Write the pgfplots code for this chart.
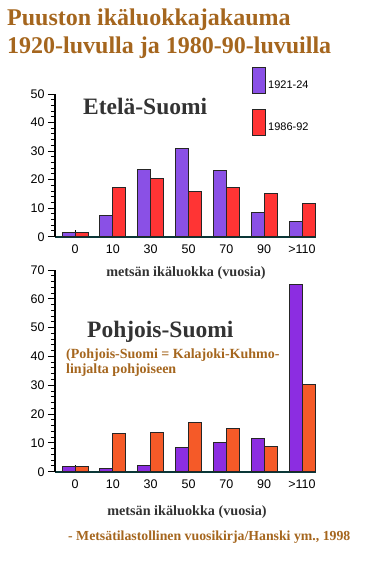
\documentclass[border=0pt]{standalone}
\usepackage{fontspec}
\setmainfont{Liberation Serif}
\newfontfamily\sansf{Liberation Sans}
\usepackage{pgfplots}
\pgfplotsset{compat=1.18}
\definecolor{titlebrown}{RGB}{165,102,30}
\definecolor{darkgray}{RGB}{51,51,51}
\definecolor{purpA}{RGB}{138,80,230}
\definecolor{redA}{RGB}{255,52,52}
\definecolor{purpB}{RGB}{140,45,225}
\definecolor{orangeB}{RGB}{245,90,40}
\definecolor{axteal}{RGB}{10,55,55}
\pgfplotsset{
 mybars/.style={
  scale only axis, width=261bp, anchor=south west,
  xmin=-0.53, xmax=6.37, ymin=0,
  axis x line*=bottom, axis y line*=left,
  xtick pos=bottom, ytick pos=left,
  x axis line style={-, line width=2bp, draw=axteal},
  y axis line style={-, line width=1.6bp, draw=black},
  xtick={0,...,6}, xticklabels={0,10,30,50,70,90,>110},
  xtick align=inside, ytick align=outside,
  major tick length=7bp, minor tick length=4bp,
  minor y tick num=4,
  tick style={draw=black, line width=1bp},
  ticklabel style={font=\sansf\fontsize{12.5bp}{14bp}\selectfont},
  /pgf/number format/assume math mode=true,
  xticklabel style={yshift=-5bp},
  every axis plot/.append style={draw=black!85, line width=1bp},
  axis on top=false,
  clip=false,
 }
}
\begin{document}
\begin{tikzpicture}
\path[use as bounding box] (0,0) rectangle (365bp,-567bp);
% titles
\node[anchor=base west, inner sep=0, text=titlebrown, font=\bfseries\fontsize{24bp}{28bp}\selectfont] at (7bp,-25bp) {Puuston ikäluokkajakauma};
\node[anchor=base west, inner sep=0, text=titlebrown, font=\bfseries\fontsize{24bp}{28bp}\selectfont] at (7bp,-53bp) {1920-luvulla ja 1980-90-luvuilla};
% top axis
\begin{axis}[mybars, at={(55bp,-236.7bp)}, height=142.7bp, ymax=50, ytick={0,10,...,50},
  legend style={at={(rel axis cs:0.755,1.189)}, anchor=north west, draw=none, fill=none, inner sep=0pt,
    row sep=15bp, font=\sansf\fontsize{11bp}{13bp}\selectfont,
    /tikz/every even column/.append style={column sep=0bp}},
  legend image code/.code={\draw[#1] (0bp,-8bp) rectangle (13bp,18bp);},
  ]
\addplot[ybar, bar width=13bp, fill=purpA, bar shift=-6.5bp] coordinates {(0,1.6)(1,7.4)(2,23.4)(3,31)(4,23.1)(5,8.5)(6,5.5)};
\addplot[ybar, bar width=13bp, fill=redA, bar shift=6.5bp] coordinates {(0,1.6)(1,17.2)(2,20.5)(3,15.8)(4,17.2)(5,15.2)(6,11.7)};
\legend{1921-24,1986-92}
\end{axis}
\node[anchor=base west, inner sep=0, text=darkgray, font=\bfseries\fontsize{23.5bp}{27bp}\selectfont] at (83bp,-114.3bp) {Etelä-Suomi};
\node[anchor=base, inner sep=0, text=darkgray, font=\bfseries\fontsize{14.2bp}{16bp}\selectfont] at (186bp,-276.7bp) {metsän ikäluokka (vuosia)};
% bottom axis
\begin{axis}[mybars, at={(55bp,-471.7bp)}, height=201.7bp, ymax=70, ytick={0,10,...,70}]
\addplot[ybar, bar width=13bp, fill=purpB, bar shift=-6.5bp] coordinates {(0,1.7)(1,1.2)(2,2.1)(3,8.3)(4,10.2)(5,11.4)(6,64.8)};
\addplot[ybar, bar width=13bp, fill=orangeB, bar shift=6.5bp] coordinates {(0,1.7)(1,13.1)(2,13.7)(3,17.1)(4,15.1)(5,8.7)(6,30.3)};
\end{axis}
\node[anchor=base west, inner sep=0, text=darkgray, font=\bfseries\fontsize{23.5bp}{27bp}\selectfont] at (87bp,-337bp) {Pohjois-Suomi};
\node[anchor=base west, inner sep=0, text=titlebrown, font=\bfseries\fontsize{14bp}{16bp}\selectfont] at (66bp,-358.3bp) {(Pohjois-Suomi = Kalajoki-Kuhmo-};
\node[anchor=base west, inner sep=0, text=titlebrown, font=\bfseries\fontsize{14bp}{16bp}\selectfont] at (66bp,-373.5bp) {linjalta pohjoiseen};
\node[anchor=base, inner sep=0, text=darkgray, font=\bfseries\fontsize{14.2bp}{16bp}\selectfont] at (187bp,-515bp) {metsän ikäluokka (vuosia)};
\node[anchor=base west, inner sep=0, text=titlebrown, font=\bfseries\fontsize{13.8bp}{16bp}\selectfont] at (68bp,-540.7bp) {- Metsätilastollinen vuosikirja/Hanski ym., 1998};
\end{tikzpicture}
\end{document}
